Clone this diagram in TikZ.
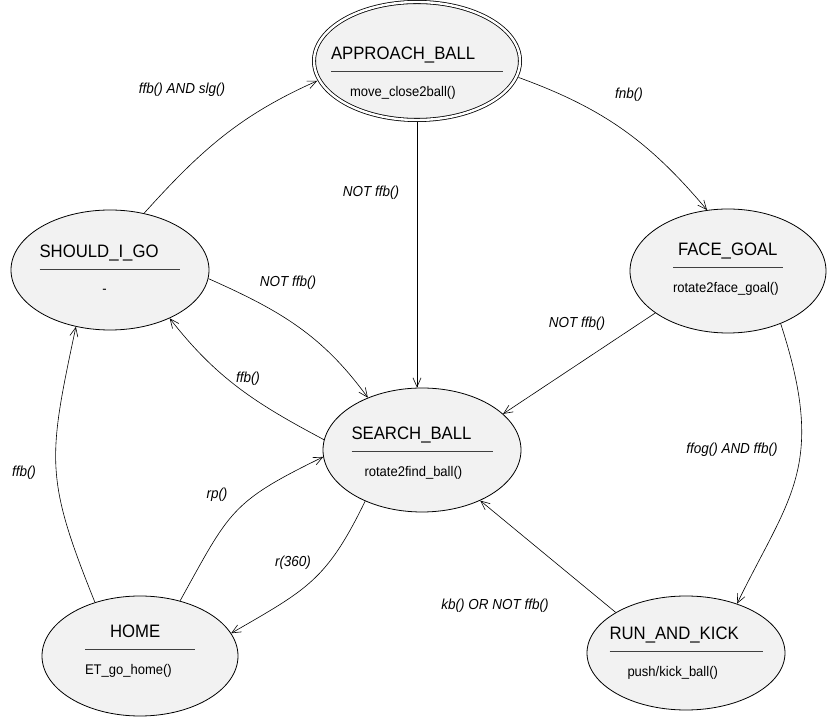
\documentclass[tikz,border=0pt]{standalone}
\usepackage{fontspec}
\setmainfont{Liberation Sans}[FakeStretch=0.93]
\usetikzlibrary{shapes.geometric,arrows.meta}
\definecolor{statefill}{HTML}{F2F2F2}
\newcommand{\titlefont}{\fontsize{18}{21}\selectfont}
\newcommand{\actionfont}{\fontsize{14}{17}\selectfont}
\newcommand{\guardfont}{\fontsize{14.5}{17}\selectfont\itshape}
% title, action, rule width, title indent, action indent
\newcommand{\statebody}[5]{%
  \makebox[#3][l]{\hspace*{#4}\titlefont #1}\\[-4.5pt]%
  {\color{black!75}\rule{#3}{0.8pt}}\\[7pt]%
  \makebox[#3][l]{\hspace*{#5}#2}}

\begin{document}
\begin{tikzpicture}[x=1pt,y=1pt]
\useasboundingbox (0,0) rectangle (831,718);
\tikzset{
  state/.style={ellipse,draw,line width=0.8pt,fill=statefill,inner sep=0pt,
    minimum width=198pt,minimum height=120pt},
  statetext/.style={align=center,font=\actionfont,inner sep=0pt},
  guard/.style={font=\guardfont,inner sep=0pt},
  trans/.style={-{Straight Barb[length=9pt,width=8pt]},line width=0.6pt}
}
% states
\node[state,double,double distance=2.4pt,minimum width=206pt,minimum height=118pt,
  label={[statetext,yshift=-12pt]center:{\statebody{APPROACH\_BALL}{move\_close2ball()}{172pt}{0pt}{19pt}}}] (app) at (417,657) {};
\node[state,
  label={[statetext,yshift=1pt]center:{\statebody{SHOULD\_I\_GO}{-}{141pt}{0pt}{63pt}}}] (sig) at (110,448) {};
\node[state,minimum width=196pt,minimum height=124pt,
  label={[statetext,yshift=2pt]center:{\statebody{FACE\_GOAL}{rotate2face\_goal()}{110pt}{5pt}{0pt}}}] (face) at (728,447) {};
\node[state,minimum height=124pt,
  label={[statetext,yshift=-3pt]center:{\statebody{SEARCH\_BALL}{rotate2find\_ball()}{141pt}{0pt}{13pt}}}] (search) at (422,268) {};
\node[state,minimum width=196pt,
  label={[statetext,yshift=5pt]center:{\statebody{HOME}{ET\_go\_home()}{110pt}{25pt}{0pt}}}] (home) at (140,62) {};
\node[state,minimum height=114pt,
  label={[statetext]center:{\statebody{RUN\_AND\_KICK}{push/kick\_ball()}{153pt}{0pt}{18pt}}}] (run) at (686,65) {};

% transitions
\draw[trans,shorten >=2pt] (sig.59) to[out=48,in=204] (app.191);
\draw[trans,shorten <=2pt] (app.-9) to[out=-20,in=130] (face.109);
\draw[trans,shorten <=2pt] (app.south) -- (app.south |- search.north);
\draw[trans] (sig.-5) to[out=-24,in=126] (search.136);
\draw[trans] (search.174) to[out=152,in=-52] (sig.-39);
\draw[trans] (face.210) -- (search.24);
\draw[trans] (face.-45) .. controls +(-72:150) and +(64:120) .. (run.44);
\draw[trans] (run.150) -- (search.-41);
\draw[trans] (home.130) to[out=112,in=258,looseness=1.25] (sig.239);
\draw[trans] (home.54) to[out=61,in=206,looseness=1.3] (search.184);
\draw[trans] (search.222) to[out=244,in=30,looseness=1.2] (home.14);

% guards
\node[guard] (g-sig-app) at (182,628) {ffb() AND slg()};
\node[guard] (g-app-face) at (629,623) {fnb()};
\node[guard] (g-app-search) at (371,525) {NOT ffb()};
\node[guard] (g-sig-search) at (288,435) {NOT ffb()};
\node[guard] (g-search-sig) at (248,339) {ffb()};
\node[guard] (g-face-search) at (577,394) {NOT ffb()};
\node[guard] (g-face-run) at (732,268) {ffog() AND ffb()};
\node[guard] (g-run-search) at (495,112) {kb() OR NOT ffb()};
\node[guard] (g-home-sig) at (24,245) {ffb()};
\node[guard] (g-home-search) at (217,223) {rp()};
\node[guard] (g-search-home) at (293,155) {r(360)};
\end{tikzpicture}
\end{document}
